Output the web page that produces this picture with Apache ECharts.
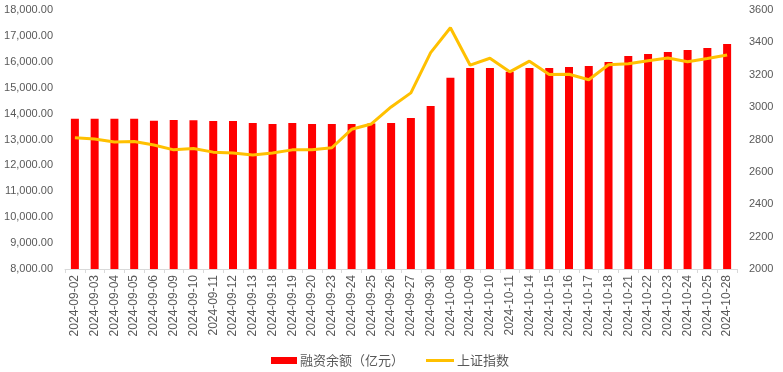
<!DOCTYPE html>
<html><head><meta charset="utf-8">
<script src="https://cdn.jsdelivr.net/npm/echarts@6/dist/echarts.min.js"></script>
<style>html,body{margin:0;padding:0;background:#fff}#c{width:783px;height:372px}</style>
</head><body><div id="c"></div>
<script>
var categories = ['2024-09-02','2024-09-03','2024-09-04','2024-09-05','2024-09-06','2024-09-09','2024-09-10','2024-09-11','2024-09-12','2024-09-13','2024-09-18','2024-09-19','2024-09-20','2024-09-23','2024-09-24','2024-09-25','2024-09-26','2024-09-27','2024-09-30','2024-10-08','2024-10-09','2024-10-10','2024-10-11','2024-10-14','2024-10-15','2024-10-16','2024-10-17','2024-10-18','2024-10-21','2024-10-22','2024-10-23','2024-10-24','2024-10-25','2024-10-28'];
var marginBalance = [13800,13800,13800,13800,13720,13750,13740,13710,13710,13640,13600,13640,13600,13600,13600,13620,13640,13830,14290,15380,15760,15760,15620,15760,15760,15800,15840,15990,16220,16300,16380,16460,16530,16690];
var shIndex = [2811,2803,2784,2788,2766,2736,2744,2722,2717,2704,2717,2736,2737,2749,2863,2896,3001,3088,3337,3490,3259,3302,3218,3284,3201,3203,3169,3262,3268,3286,3303,3280,3300,3322];
var leftTicks = {min:8000, max:18000, interval:1000};
var rightTicks = {min:2000, max:3600, interval:200};

var chart = echarts.init(document.getElementById('c'));
var gray = '#595959';
chart.setOption({
  animation:false,
  grid:{left:65, right:46, top:10, bottom:103},
  legend:[
    {data:['融资余额（亿元）'], left:266, top:349, itemWidth:26, itemHeight:7, icon:'rect', itemGap:0,
     textStyle:{color:gray, fontSize:13, fontFamily:'Noto Sans CJK SC', padding:[0,0,0,-2]}},
    {data:['上证指数'], left:421, top:349, itemWidth:28, itemHeight:3, icon:'rect', itemGap:0,
     textStyle:{color:gray, fontSize:13, fontFamily:'Noto Sans CJK SC', padding:[0,0,0,-2]}}
  ],
  xAxis:{type:'category', data:categories, boundaryGap:true,
    axisLine:{lineStyle:{color:'#d9d9d9'}},
    axisTick:{show:true, length:4, lineStyle:{color:'#d9d9d9'}},
    axisLabel:{rotate:90, interval:0, color:gray, fontSize:12, fontFamily:'Liberation Sans', margin:6}},
  yAxis:[
    {type:'value', min:leftTicks.min, max:leftTicks.max, interval:leftTicks.interval,
     splitLine:{show:false}, axisLine:{show:false}, axisTick:{show:false},
     axisLabel:{color:gray, fontSize:11, fontFamily:'Liberation Sans', margin:12,
       formatter:function(v){return v.toLocaleString('en-US',{minimumFractionDigits:2,maximumFractionDigits:2});}}},
    {type:'value', min:rightTicks.min, max:rightTicks.max, interval:rightTicks.interval,
     splitLine:{show:false}, axisLine:{show:false}, axisTick:{show:false},
     axisLabel:{color:gray, fontSize:11, fontFamily:'Liberation Sans', margin:12,
       formatter:function(v){return String(v);}}}
  ],
  series:[
    {name:'融资余额（亿元）', type:'bar', data:marginBalance, barWidth:8, itemStyle:{color:'#FF0000'}, yAxisIndex:0},
    {name:'上证指数', type:'line', data:shIndex, yAxisIndex:1, symbol:'none', smooth:false,
     lineStyle:{color:'#FFC000', width:3}, itemStyle:{color:'#FFC000'}}
  ]
});
</script></body></html>
